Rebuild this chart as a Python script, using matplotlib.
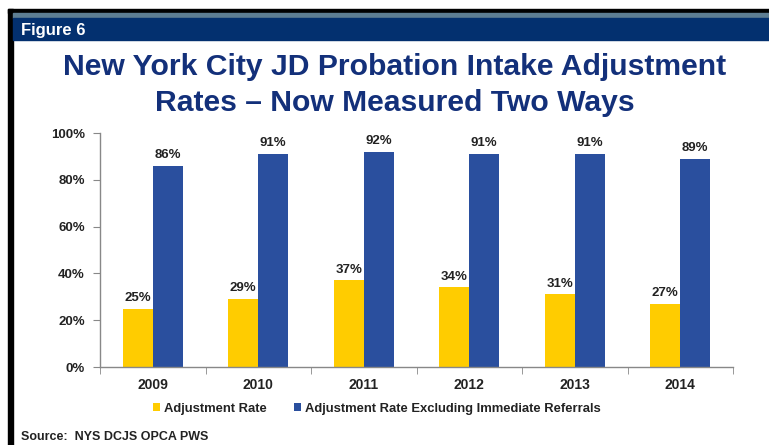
import numpy as np
import matplotlib.pyplot as plt
from matplotlib.patches import Rectangle

years = ["2009", "2010", "2011", "2012", "2013", "2014"]
adj_rate = [25, 29, 37, 34, 31, 27]
adj_rate_excl = [86, 91, 92, 91, 91, 89]
series_names = ["Adjustment Rate", "Adjustment Rate Excluding Immediate Referrals"]

W, H = 769, 445
YELLOW = "#FFCC00"
BLUE = "#2A4F9E"
NAVY = "#03306F"
TITLE_C = "#13307A"
TEXT_C = "#222222"

plt.rcParams["font.family"] = ["Liberation Sans", "DejaVu Sans"]

fig = plt.figure(figsize=(W / 100, H / 100), dpi=100)

def px(x, y):
    # pixel coords (top-left origin) -> figure fraction
    return x / W, 1 - y / H

# frame: black top/left border, steel stripe, navy band
fig.patches.append(Rectangle((8 / W, 0), 5 / W, 1 - 9 / H, transform=fig.transFigure, color="black", zorder=0))
fig.patches.append(Rectangle((8 / W, 1 - 13 / H), 1, 4 / H, transform=fig.transFigure, color="black", zorder=0))
fig.patches.append(Rectangle((13 / W, 1 - 18 / H), 1, 5 / H, transform=fig.transFigure, color="#5E7E93", zorder=0))
fig.patches.append(Rectangle((13 / W, 1 - 40 / H), 1, 22 / H, transform=fig.transFigure, color=NAVY, zorder=0))

fig.text(*px(21, 30), "Figure 6", color="white", fontsize=12, fontweight="bold", va="center", ha="left")

fig.text(*px(395, 67), "New York City JD Probation Intake Adjustment", color=TITLE_C,
         fontsize=21.7, fontweight="bold", ha="center", va="center")
fig.text(*px(395, 103), "Rates \u2013 Now Measured Two Ways", color=TITLE_C,
         fontsize=21.7, fontweight="bold", ha="center", va="center")

# axes
ax_left, ax_top, ax_right, ax_bot = 100, 133, 733, 367
ax = fig.add_axes([ax_left / W, 1 - ax_bot / H, (ax_right - ax_left) / W, (ax_bot - ax_top) / H])

x = np.arange(len(years))
bw = 0.285
b1 = ax.bar(x - bw / 2, adj_rate, bw, color=YELLOW, label=series_names[0])
b2 = ax.bar(x + bw / 2, adj_rate_excl, bw, color=BLUE, label=series_names[1])

for rect, v in zip(b1, adj_rate):
    ax.text(rect.get_x() + rect.get_width() / 2, v + 2, f"{v}%", ha="center", va="bottom",
            fontsize=9.5, fontweight="bold", color=TEXT_C)
for rect, v in zip(b2, adj_rate_excl):
    ax.text(rect.get_x() + rect.get_width() / 2, v + 2, f"{v}%", ha="center", va="bottom",
            fontsize=9.5, fontweight="bold", color=TEXT_C)

ax.set_xlim(-0.5, len(years) - 0.5)
ax.set_ylim(0, 100)
ax.set_yticks(range(0, 101, 20))
ax.set_yticklabels([f"{v}%" for v in range(0, 101, 20)], fontsize=9.5, fontweight="bold", color=TEXT_C)
ax.set_xticks(x)
ax.set_xticklabels(years, fontsize=10, fontweight="bold", color=TEXT_C)
ax.tick_params(axis="x", length=0, pad=8)
ax.set_xticks(np.arange(-0.5, len(years)), minor=True)
ax.tick_params(axis="x", which="minor", length=5, color="#888888", direction="out")
ax.tick_params(axis="y", length=5, color="#888888", direction="out", pad=6)
for s in ["top", "right"]:
    ax.spines[s].set_visible(False)
for s in ["left", "bottom"]:
    ax.spines[s].set_color("#888888")
    ax.spines[s].set_linewidth(1)

# legend
leg = fig.legend(handles=[b1, b2], loc="center left", bbox_to_anchor=px(146, 409), ncol=2,
                 frameon=False, fontsize=9.4, handlelength=0.55, handleheight=0.55,
                 handletextpad=0.3, columnspacing=2.1, borderpad=0)
for t in leg.get_texts():
    t.set_fontweight("bold")
    t.set_color(TEXT_C)

fig.text(*px(21, 437), "Source:  NYS DCJS OPCA PWS", fontsize=9, fontweight="bold",
         color=TEXT_C, ha="left", va="center")

fig.savefig("out.png", dpi=100)
